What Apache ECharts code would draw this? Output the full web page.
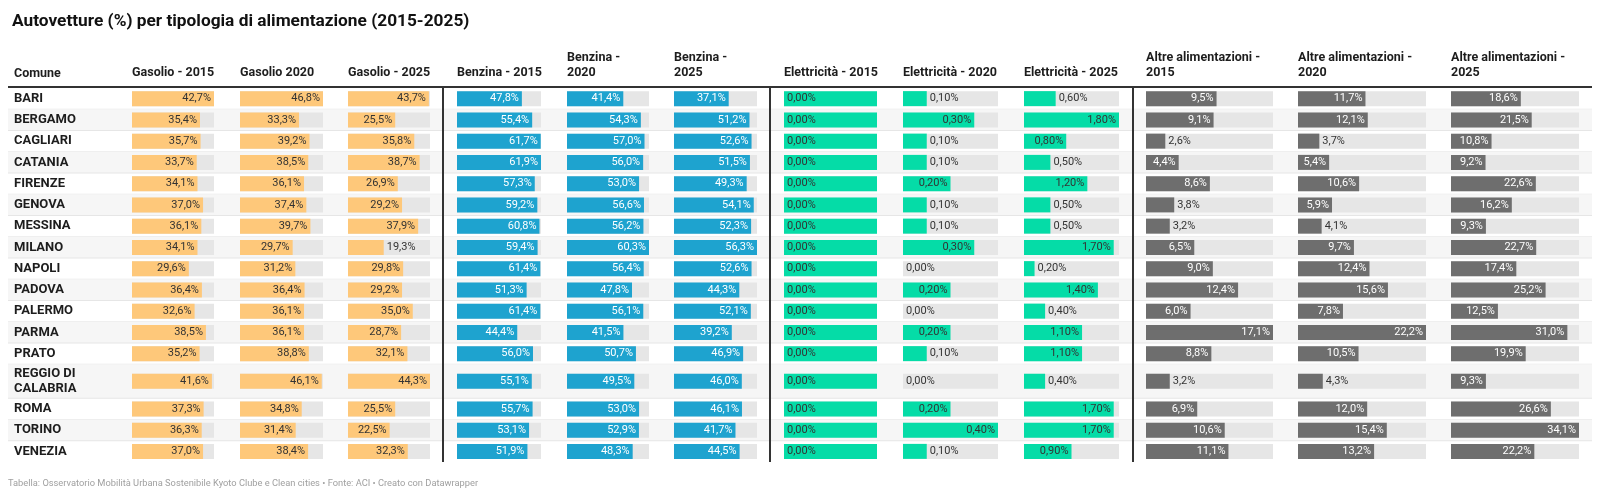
<!DOCTYPE html>
<html>
<head>
<meta charset="utf-8">
<script src="https://cdn.jsdelivr.net/npm/echarts@6/dist/echarts.min.js"></script>
<style>
  html, body { margin: 0; padding: 0; background: #fff; }
  #chart { width: 1600px; height: 495px; }
</style>
</head>
<body>
<div id="chart"></div>
<script>
var comuni = ['BARI', 'BERGAMO', 'CAGLIARI', 'CATANIA', 'FIRENZE', 'GENOVA', 'MESSINA', 'MILANO', 'NAPOLI',
    'PADOVA', 'PALERMO', 'PARMA', 'PRATO', 'REGGIO DI\nCALABRIA', 'ROMA', 'TORINO', 'VENEZIA'];

var gasolio2015 = [42.7, 35.4, 35.7, 33.7, 34.1, 37.0, 36.1, 34.1, 29.6, 36.4, 32.6, 38.5, 35.2, 41.6, 37.3, 36.3, 37.0];
var gasolio2020 = [46.8, 33.3, 39.2, 38.5, 36.1, 37.4, 39.7, 29.7, 31.2, 36.4, 36.1, 36.1, 38.8, 46.1, 34.8, 31.4, 38.4];
var gasolio2025 = [43.7, 25.5, 35.8, 38.7, 26.9, 29.2, 37.9, 19.3, 29.8, 29.2, 35.0, 28.7, 32.1, 44.3, 25.5, 22.5, 32.3];
var benzina2015 = [47.8, 55.4, 61.7, 61.9, 57.3, 59.2, 60.8, 59.4, 61.4, 51.3, 61.4, 44.4, 56.0, 55.1, 55.7, 53.1, 51.9];
var benzina2020 = [41.4, 54.3, 57.0, 56.0, 53.0, 56.6, 56.2, 60.3, 56.4, 47.8, 56.1, 41.5, 50.7, 49.5, 53.0, 52.9, 48.3];
var benzina2025 = [37.1, 51.2, 52.6, 51.5, 49.3, 54.1, 52.3, 56.3, 52.6, 44.3, 52.1, 39.2, 46.9, 46.0, 46.1, 41.7, 44.5];
var elettr2015 = [0, 0, 0, 0, 0, 0, 0, 0, 0, 0, 0, 0, 0, 0, 0, 0, 0];
var elettr2020 = [0.10, 0.30, 0.10, 0.10, 0.20, 0.10, 0.10, 0.30, 0.00, 0.20, 0.00, 0.20, 0.10, 0.00, 0.20, 0.40, 0.10];
var elettr2025 = [0.60, 1.80, 0.80, 0.50, 1.20, 0.50, 0.50, 1.70, 0.20, 1.40, 0.40, 1.10, 1.10, 0.40, 1.70, 1.70, 0.90];
var altre2015 = [9.5, 9.1, 2.6, 4.4, 8.6, 3.8, 3.2, 6.5, 9.0, 12.4, 6.0, 17.1, 8.8, 3.2, 6.9, 10.6, 11.1];
var altre2020 = [11.7, 12.1, 3.7, 5.4, 10.6, 5.9, 4.1, 9.7, 12.4, 15.6, 7.8, 22.2, 10.5, 4.3, 12.0, 15.4, 13.2];
var altre2025 = [18.6, 21.5, 10.8, 9.2, 22.6, 16.2, 9.3, 22.7, 17.4, 25.2, 12.5, 31.0, 19.9, 9.3, 26.6, 34.1, 22.2];

var intestazioni = ['Gasolio - 2015', 'Gasolio 2020', 'Gasolio - 2025',
    'Benzina - 2015', 'Benzina -\n2020', 'Benzina -\n2025',
    'Elettricità - 2015', 'Elettricità - 2020', 'Elettricità - 2025',
    'Altre alimentazioni -\n2015', 'Altre alimentazioni -\n2020', 'Altre alimentazioni -\n2025'];

var titolo = 'Autovetture (%) per tipologia di alimentazione (2015-2025)';
var fonte = 'Tabella: Osservatorio Mobilità Urbana Sostenibile Kyoto Clube e Clean cities • Fonte: ACI • Creato con Datawrapper';

// colonne: dati, colore, decimali, colore testo dentro la barra, posizione
var colonne = [
    { data: gasolio2015, color: '#fec87a', dec: 1, inText: '#333', left: 132, width: 82 },
    { data: gasolio2020, color: '#fec87a', dec: 1, inText: '#333', left: 240, width: 83 },
    { data: gasolio2025, color: '#fec87a', dec: 1, inText: '#333', left: 348, width: 82 },
    { data: benzina2015, color: '#1ea3cf', dec: 1, inText: '#fff', left: 457, width: 84 },
    { data: benzina2020, color: '#1ea3cf', dec: 1, inText: '#fff', left: 567, width: 82 },
    { data: benzina2025, color: '#1ea3cf', dec: 1, inText: '#fff', left: 674, width: 83 },
    { data: elettr2015, color: '#05dca7', dec: 2, inText: '#333', left: 784, width: 93 },
    { data: elettr2020, color: '#05dca7', dec: 2, inText: '#333', left: 903, width: 95 },
    { data: elettr2025, color: '#05dca7', dec: 2, inText: '#333', left: 1024, width: 95 },
    { data: altre2015, color: '#6e6e6e', dec: 1, inText: '#fff', left: 1146, width: 127 },
    { data: altre2020, color: '#6e6e6e', dec: 1, inText: '#fff', left: 1298, width: 128 },
    { data: altre2025, color: '#6e6e6e', dec: 1, inText: '#fff', left: 1451, width: 128 }
];

var TABLE_TOP = 88, TABLE_BOTTOM = 462, TABLE_LEFT = 8, TABLE_RIGHT = 1592;
var BAR_H = 15;
var valueFont = '11px Roboto';

// altezza delle righe (le righe su due linee sono più alte)
var rowUnits = comuni.map(function (n) { return n.indexOf('\n') >= 0 ? 1.6 : 1; });
var rowTop = [];
var totalUnits = 0;
rowUnits.forEach(function (u) { rowTop.push(totalUnits); totalUnits += u; });

var measureCtx = document.createElement('canvas').getContext('2d');
function textWidth(t) {
    measureCtx.font = valueFont;
    return measureCtx.measureText(t).width;
}

function formatta(v, dec) {
    return v.toFixed(dec).replace('.', ',') + '%';
}

var chart = echarts.init(document.getElementById('chart'));

var grids = [{ left: TABLE_LEFT, width: TABLE_RIGHT - TABLE_LEFT, top: TABLE_TOP, height: TABLE_BOTTOM - TABLE_TOP }];
var xAxes = [{ type: 'value', gridIndex: 0, min: 0, max: 1, show: false }];
var yAxes = [{ type: 'value', gridIndex: 0, min: 0, max: totalUnits, inverse: true, show: false }];

// righe: sfondo alternato, separatori e nome del comune
var series = [{
    type: 'custom',
    xAxisIndex: 0,
    yAxisIndex: 0,
    z: 1,
    silent: true,
    data: comuni.map(function (n, i) { return [0, i]; }),
    renderItem: function (params, api) {
        var i = api.value(1);
        var top = api.coord([0, rowTop[i]]);
        var bottom = api.coord([1, rowTop[i] + rowUnits[i]]);
        var mid = (top[1] + bottom[1]) / 2;
        var children = [];
        if (i % 2 === 1) {
            children.push({ type: 'rect', shape: { x: TABLE_LEFT, y: top[1], width: TABLE_RIGHT - TABLE_LEFT, height: bottom[1] - top[1] },
                style: { fill: '#f6f6f6' } });
        }
        if (i < comuni.length - 1) {
            children.push({ type: 'line', shape: { x1: TABLE_LEFT, y1: bottom[1], x2: TABLE_RIGHT, y2: bottom[1] },
                style: { stroke: '#e6e6e6', lineWidth: 1 } });
        }
        children.push({ type: 'text', x: 14, y: mid,
            style: { text: comuni[i], font: 'bold 13px Roboto', fill: '#1d1d1d', align: 'left', verticalAlign: 'middle', lineHeight: 15 } });
        return { type: 'group', children: children };
    }
}];

colonne.forEach(function (col, k) {
    var gi = k + 1;
    var colMax = Math.max.apply(null, col.data);
    grids.push({ left: col.left, width: col.width, top: TABLE_TOP, height: TABLE_BOTTOM - TABLE_TOP });
    xAxes.push({ type: 'value', gridIndex: gi, min: 0, max: colMax > 0 ? colMax : 1, show: false });
    yAxes.push({ type: 'value', gridIndex: gi, min: 0, max: totalUnits, inverse: true, show: false });

    series.push({
        type: 'custom',
        xAxisIndex: gi,
        yAxisIndex: gi,
        z: 2,
        silent: true,
        data: col.data.map(function (v, i) { return [v, i]; }),
        renderItem: function (params, api) {
            var v = api.value(0);
            var i = api.value(1);
            var midU = rowTop[i] + rowUnits[i] / 2;
            var start = api.coord([0, midU]);
            var end = api.coord([colMax > 0 ? colMax : 1, midU]);
            var full = end[0] - start[0];
            var valW = colMax > 0 ? api.coord([v, midU])[0] - start[0] : 0;
            var barW = colMax > 0 ? valW : full;
            var y = start[1];
            var label = formatta(v, col.dec);
            var inside = valW >= textWidth(label) + 8;
            return {
                type: 'group',
                children: [
                    { type: 'rect', shape: { x: start[0], y: y - BAR_H / 2, width: full, height: BAR_H }, style: { fill: '#e6e6e6' } },
                    { type: 'rect', shape: { x: start[0], y: y - BAR_H / 2, width: barW, height: BAR_H }, style: { fill: col.color } },
                    { type: 'text', x: inside ? start[0] + valW - 3 : start[0] + valW + 3, y: y,
                        style: { text: label, font: valueFont, fill: inside ? col.inText : '#333',
                            align: inside ? 'right' : 'left', verticalAlign: 'middle' } }
                ]
            };
        }
    });
});

// intestazioni e linee della tabella
var HEAD_Y = 80;
var graphics = [
    { type: 'text', x: 14, y: HEAD_Y, style: { text: 'Comune', font: 'bold 12.5px Roboto', fill: '#1d1d1d', verticalAlign: 'bottom' } },
    { type: 'line', z: 10, shape: { x1: TABLE_LEFT, y1: 87, x2: TABLE_RIGHT, y2: 87 }, style: { stroke: '#333', lineWidth: 2 } },
    { type: 'text', x: 8, y: 484, style: { text: fonte, font: '9.3px Roboto', fill: '#a0a0a0', verticalAlign: 'middle' } }
];
colonne.forEach(function (col, k) {
    graphics.push({ type: 'text', x: col.left, y: HEAD_Y,
        style: { text: intestazioni[k], font: 'bold 12.5px Roboto', fill: '#1d1d1d', verticalAlign: 'bottom', lineHeight: 15 } });
});
[443, 770, 1133].forEach(function (x) {
    graphics.push({ type: 'line', z: 10, shape: { x1: x, y1: 87, x2: x, y2: TABLE_BOTTOM }, style: { stroke: '#333', lineWidth: 2 } });
});

var option = {
    animation: false,
    backgroundColor: '#fff',
    textStyle: { fontFamily: 'Roboto' },
    title: {
        text: titolo,
        left: 7,
        top: 8,
        textStyle: { fontSize: 17.3, fontWeight: 'bold', color: '#111', fontFamily: 'Roboto' }
    },
    grid: grids,
    xAxis: xAxes,
    yAxis: yAxes,
    series: series,
    graphic: graphics
};

chart.setOption(option);
</script>
</body>
</html>
